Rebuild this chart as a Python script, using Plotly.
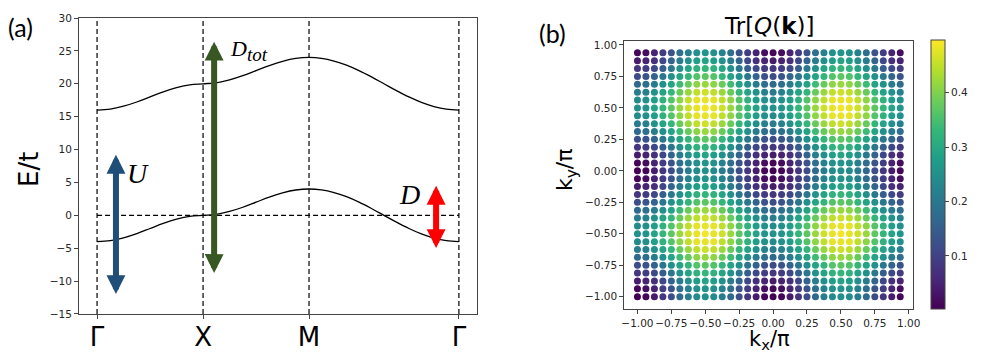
import numpy as np
import plotly.graph_objects as go

# (a) bands along the path Γ-X-M-Γ (path length, E/t)
K_PATH = [
    0.0, 0.393, 0.785, 1.178, 1.571, 1.963, 2.356, 2.749, 3.142,
    3.534, 3.927, 4.320, 4.712, 5.105, 5.498, 5.890, 6.283,
    6.653, 7.024, 7.394, 7.764, 8.134, 8.505, 8.875, 9.245, 9.615, 9.986, 10.356, 10.726,
]
LOWER_BAND = [
    -4, -3.85, -3.41, -2.77, -2, -1.23, -0.59, -0.15, 0,
    0.15, 0.59, 1.23, 2, 2.77, 3.41, 3.85, 4,
    3.86, 3.46, 2.83, 2, 1.04, 0, -1.04, -2, -2.83, -3.46, -3.86, -4,
]
UPPER_BAND = [
    16, 16.15, 16.59, 17.23, 18, 18.77, 19.41, 19.85, 20,
    20.15, 20.59, 21.23, 22, 22.77, 23.41, 23.85, 24,
    23.86, 23.46, 22.83, 22, 21.04, 20, 18.96, 18, 17.17, 16.54, 16.14, 16,
]
SYM_POINTS = [0.0, 3.142, 6.283, 10.726]
SYM_LABELS = ["Γ", "X", "M", "Γ"]

# gap arrows: (path position, top, bottom, colour)
ARROWS = [
    (0.56, 9.2, -12.2, "#1f4e79"),
    (3.47, 26.4, -9.0, "#385723"),
    (10.05, 4.5, -5.2, "#ff0000"),
]

# (b) Tr[Q(k)] on a 32x32 k grid, read as one quarter (edge -> centre of quadrant)
K_GRID = np.linspace(-1, 0.9375, 32)
QUARTER = [
    [0.00, 0.01, 0.04, 0.08, 0.12, 0.17, 0.21, 0.24, 0.25],
    [0.01, 0.02, 0.05, 0.09, 0.13, 0.18, 0.22, 0.25, 0.26],
    [0.04, 0.05, 0.07, 0.11, 0.16, 0.21, 0.25, 0.28, 0.29],
    [0.08, 0.09, 0.11, 0.15, 0.20, 0.25, 0.29, 0.32, 0.33],
    [0.12, 0.13, 0.16, 0.20, 0.25, 0.29, 0.33, 0.36, 0.37],
    [0.17, 0.18, 0.21, 0.25, 0.29, 0.34, 0.38, 0.41, 0.42],
    [0.21, 0.22, 0.25, 0.29, 0.33, 0.38, 0.42, 0.45, 0.46],
    [0.24, 0.25, 0.28, 0.32, 0.36, 0.41, 0.45, 0.48, 0.48],
    [0.25, 0.26, 0.29, 0.33, 0.37, 0.42, 0.46, 0.48, 0.49],
]
K_TICKS = [-1, -0.75, -0.5, -0.25, 0, 0.25, 0.5, 0.75, 1]
CBAR_TICKS = [0.1, 0.2, 0.3, 0.4]

TICK_FONT = dict(family="DejaVu Sans", size=10.5, color="#262626")
AXIS_LINE = dict(showline=True, mirror=True, linecolor="#444", linewidth=1,
                 ticks="outside", ticklen=4, tickcolor="#444",
                 showgrid=False, zeroline=False)

# mirror the quarter onto the full grid
fold = [min(n % 16, 16 - n % 16) for n in range(32)]
kx, ky, q = [], [], []
for iy in range(32):
    for ix in range(32):
        kx.append(K_GRID[ix])
        ky.append(K_GRID[iy])
        q.append(QUARTER[fold[iy]][fold[ix]])

fig = go.Figure()

# dashed guides
vx, vy = [], []
for p in SYM_POINTS:
    vx += [p, p, None]
    vy += [-15, 30, None]
dash = dict(color="black", width=1.2, dash="5px,3px")
fig.add_trace(go.Scatter(x=vx, y=vy, mode="lines", line=dash, hoverinfo="skip"))
fig.add_trace(go.Scatter(x=[SYM_POINTS[0], SYM_POINTS[-1]], y=[0, 0], mode="lines",
                         line=dash, hoverinfo="skip"))

for band in (LOWER_BAND, UPPER_BAND):
    fig.add_trace(go.Scatter(x=K_PATH, y=band, mode="lines",
                             line=dict(color="black", width=1.3, shape="spline")))

fig.add_trace(go.Scatter(
    x=kx, y=ky, mode="markers", xaxis="x2", yaxis="y2",
    marker=dict(size=7, color=q, colorscale="Viridis", cmin=0.0024, cmax=0.497,
                line=dict(width=0),
                colorbar=dict(x=0.9344, xanchor="left", y=0.132, yanchor="bottom",
                              len=269, lenmode="pixels", thickness=13.6,
                              xpad=0, ypad=0,
                              outlinewidth=1, outlinecolor="#444",
                              tickvals=CBAR_TICKS, ticks="outside", ticklen=4,
                              tickcolor="#444", tickfont=TICK_FONT)),
))

annotations = []
for xa, top, bot, color in ARROWS:
    annotations.append(dict(
        x=xa, y=top, ax=xa, ay=bot, xref="x", yref="y", axref="x", ayref="y",
        text="", showarrow=True, arrowside="end+start", arrowhead=2, startarrowhead=2,
        arrowwidth=6, arrowsize=0.63, startarrowsize=0.63, arrowcolor=color,
    ))


def label(x, y, text, size, family="DejaVu Sans", ref="paper", **kw):
    if ref == "paper":
        x, y = x / 996, 1 - y / 356
        xref, yref = "paper", "paper"
    else:
        xref, yref = "x", "y"
    return dict(x=x, y=y, xref=xref, yref=yref, text=text, showarrow=False,
                xanchor=kw.pop("xanchor", "center"), yanchor="middle",
                font=dict(family=family, size=size, color="black"), **kw)


serif = "Liberation Serif"
annotations += [
    label(1.2, 6.4, "<i>U</i>", 28, serif, ref="data"),
    label(3.88, 25.0, "<i>D<sub><span style='font-size:19px'>tot</span></sub></i>",
          22, serif, ref="data", xanchor="left"),
    label(9.25, 3.1, "<i>D</i>", 28, serif, ref="data"),
    label(20, 27, "(a)", 25, "Lato"),
    label(552, 33, "(b)", 25, "Lato"),
    label(29, 170, "E/t", 26, textangle=-90),
    label(769, 26, "Tr[<i>Q</i>(<b>k</b>)]", 23),
    label(567, 170, "k<sub>y</sub>/π", 22, textangle=-90),
    label(769, 340, "k<sub>x</sub>/π", 21),
]

fig.update_layout(
    width=996, height=356,
    margin=dict(l=0, r=0, t=0, b=0, pad=0, autoexpand=False),
    paper_bgcolor="white", plot_bgcolor="white", showlegend=False,
    xaxis=dict(domain=[0.0793, 0.4789], range=[-0.536, 11.262],
               tickvals=SYM_POINTS, ticktext=SYM_LABELS, tickangle=0,
               ticklabelstandoff=-4,
               tickfont=dict(family="DejaVu Sans", size=26, color="black"), **AXIS_LINE),
    yaxis=dict(domain=[0.118, 0.9494], range=[-15, 30], dtick=5,
               tickfont=TICK_FONT, **AXIS_LINE),
    xaxis2=dict(domain=[0.6268, 0.917], range=[-1.097, 1.034], anchor="y2",
                tickvals=K_TICKS, tickformat=".2f", tickangle=0,
                tickfont=TICK_FONT, **AXIS_LINE),
    yaxis2=dict(domain=[0.1312, 0.8857], range=[-1.1, 1.034], anchor="x2",
                tickvals=K_TICKS, tickformat=".2f",
                tickfont=TICK_FONT, **AXIS_LINE),
    annotations=annotations,
)

fig.write_html("out.html", config={"displayModeBar": False},
               post_script="document.body.style.margin='0';")
